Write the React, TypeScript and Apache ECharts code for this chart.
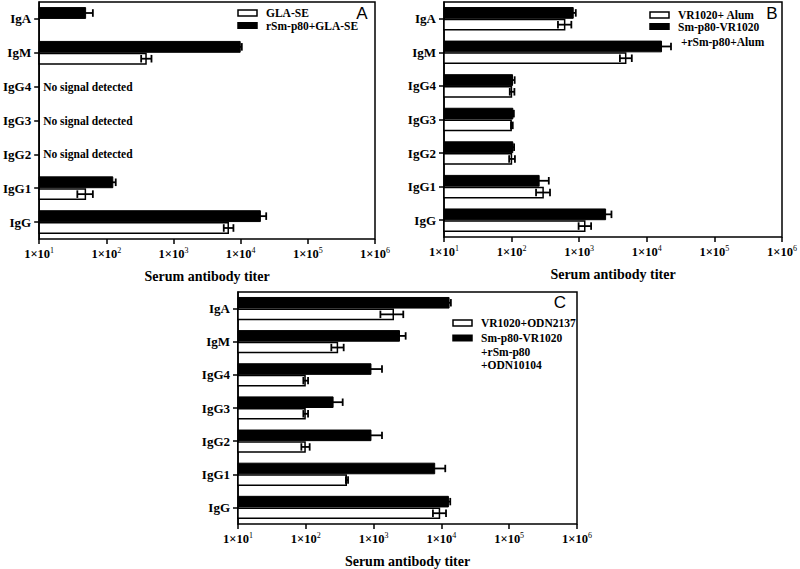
import React, { useEffect, useRef } from 'react';
import * as echarts from 'echarts';

const categories = ['IgG', 'IgG1', 'IgG2', 'IgG3', 'IgG4', 'IgM', 'IgA'];
const axisTitle = 'Serum antibody titer';
const noSignalText = 'No signal detected';
const noSignalCatsA = ['IgG2', 'IgG3', 'IgG4'];

// Panel A
const aWhite = [6700, 50, null, null, null, 400, null];
const aWhiteErr = [1100, 13, null, null, null, 70, null];
const aBlack = [20000, 127, null, null, null, 10000, 50];
const aBlackErr = [4000, 11, null, null, null, 400, 13];
const aLegend = ['GLA-SE', 'rSm-p80+GLA-SE'];

// Panel B
const bWhite = [1240, 300, 102, 101, 102, 5000, 625];
const bWhiteErr = [260, 70, 10, 3, 8, 1000, 140];
const bBlack = [2500, 260, 106, 106, 105, 16800, 830];
const bBlackErr = [500, 95, 3, 2, 6, 6000, 60];
const bLegend = ['VR1020+ Alum', 'Sm-p80-VR1020\n +rSm-p80+Alum'];

// Panel C
const cWhite = [9600, 405, 100, 100, 100, 300, 2000];
const cWhiteErr = [2100, 15, 14, 8, 8, 62, 740];
const cBlack = [12900, 8100, 930, 257, 930, 2450, 13200];
const cBlackErr = [600, 3300, 400, 93, 400, 520, 600];
const cLegend = ['VR1020+ODN2137', 'Sm-p80-VR1020\n+rSm-p80\n+ODN10104'];

const SERIF = 'Liberation Serif';
const SANS = 'Liberation Sans';

const grids = [
  { left: 35, top: 2, width: 340, height: 237 },
  { left: 444, top: 2, width: 338, height: 235 },
  { left: 238, top: 292, width: 339, height: 240 },
];

function errData(vals: (number | null)[], errs: (number | null)[], pos: number) {
  const out: any[] = [];
  vals.forEach((v, i) => {
    if (v != null && errs[i] != null) out.push([v, i, errs[i], pos]);
  });
  return out;
}

function renderErr(params: any, api: any) {
  const v = api.value(0);
  const c = api.value(1);
  const e = api.value(2);
  const pos = api.value(3);
  const lo = api.coord([v - e, c]);
  const hi = api.coord([v + e, c]);
  let band = api.size([0, 1])[1];
  if (!isFinite(band) || band <= 0) band = 34;
  const barH = band * 0.35;
  const y = lo[1] + (pos * barH) / 2;
  const cap = barH * 0.32;
  const st = { stroke: '#000', lineWidth: 1.8 };
  return {
    type: 'group',
    children: [
      { type: 'line', shape: { x1: lo[0], y1: y, x2: hi[0], y2: y }, style: st },
      { type: 'line', shape: { x1: lo[0], y1: y - cap, x2: lo[0], y2: y + cap }, style: st },
      { type: 'line', shape: { x1: hi[0], y1: y - cap, x2: hi[0], y2: y + cap }, style: st },
    ],
  };
}

function panelSeries(i: number, white: any[], whiteErr: any[], black: any[], blackErr: any[]) {
  return [
    {
      type: 'bar',
      xAxisIndex: i,
      yAxisIndex: i,
      data: black,
      barGap: '0%',
      barCategoryGap: '30%',
      itemStyle: { color: '#000', borderColor: '#000', borderWidth: 1 },
    },
    {
      type: 'bar',
      xAxisIndex: i,
      yAxisIndex: i,
      data: white,
      barGap: '0%',
      barCategoryGap: '30%',
      itemStyle: { color: '#fff', borderColor: '#000', borderWidth: 1.5 },
    },
    {
      type: 'custom',
      xAxisIndex: i,
      yAxisIndex: i,
      encode: { x: 0, y: 1 },
      data: [...errData(black, blackErr, -1), ...errData(white, whiteErr, 1)],
      renderItem: renderErr,
      z: 5,
    },
  ];
}

const txt = (size: number, bold = true, family = SERIF) => ({
  fontFamily: family,
  fontSize: size,
  fontWeight: bold ? 'bold' : 'normal',
  fill: '#000',
  verticalAlign: 'middle',
});

function legendGraphic(
  x: number, y: number, labels: string[], gap: number, lineH: number,
  letter: string, lx: number, ly: number,
) {
  const lines = labels[1].split('\n');
  const tx = x + 28;
  const children: any[] = [
    { type: 'rect', shape: { x, y: y - 3, width: 19, height: 6 }, style: { fill: '#fff', stroke: '#000', lineWidth: 1.5 } },
    { type: 'text', x: tx, y, style: { text: labels[0], ...txt(11.5) } },
    { type: 'rect', shape: { x: x - 0.75, y: y + gap - 3.5, width: 20.5, height: 7 }, style: { fill: '#000' } },
  ];
  lines.forEach((t, k) => {
    children.push({
      type: 'text',
      x: tx,
      y: y + gap + k * lineH,
      style: { text: t, ...txt(11.5) },
    });
  });
  children.push({
    type: 'text',
    x: lx,
    y: ly,
    style: { text: letter, ...txt(17, false, SANS), align: 'center' },
  });
  return children;
}

export default function App() {
  const ref = useRef<HTMLDivElement>(null);
  useEffect(() => {
    if (!ref.current) return;
    const chart = echarts.init(ref.current, null, { renderer: 'svg' });
    const xAxes = grids.map((_, i) => ({
      type: 'log',
      logBase: 10,
      min: 10,
      max: 1e6,
      gridIndex: i,
      name: axisTitle,
      nameLocation: 'middle',
      nameGap: 30,
      nameTextStyle: { fontFamily: SERIF, fontWeight: 'bold', fontSize: 14, color: '#000' },
      axisLine: { lineStyle: { color: '#000', width: 1.5 } },
      axisTick: { show: true, lineStyle: { color: '#000', width: 1.5 }, length: 5 },
      minorTick: { show: false },
      splitLine: { show: false },
      axisLabel: {
        margin: 7,
        color: '#000',
        formatter: (v: number) => `{b|1×10}{s|${Math.round(Math.log10(v))}}`,
        rich: {
          b: { fontFamily: SERIF, fontWeight: 'bold', fontSize: 12.5, color: '#000' },
          s: { fontFamily: SERIF, fontSize: 8, color: '#000', padding: [0, 0, 7, 0] },
        },
      },
    }));
    const yAxes = grids.map((_, i) => ({
      type: 'category',
      gridIndex: i,
      data: categories,
      axisLine: { show: true, lineStyle: { color: '#000', width: 1.5 } },
      axisTick: { show: true, alignWithLabel: true, length: 5, lineStyle: { color: '#000', width: 1.5 } },
      axisLabel: { margin: 8, fontFamily: SERIF, fontWeight: 'bold', fontSize: 13, color: '#000' },
    }));
    const noSignal = {
      type: 'custom',
      xAxisIndex: 0,
      yAxisIndex: 0,
      encode: { x: 0, y: 1 },
      data: noSignalCatsA.map((c) => [10, categories.indexOf(c)]),
      renderItem: (params: any, api: any) => {
        const p = api.coord([api.value(0), api.value(1)]);
        return {
          type: 'text',
          x: p[0] + 4,
          y: p[1],
          style: { text: noSignalText, ...txt(11.5) },
        };
      },
    };
    chart.setOption({
      animation: false,
      backgroundColor: '#fff',
      grid: grids.map((g) => ({ ...g, show: true, borderColor: '#000', borderWidth: 1.5, backgroundColor: 'transparent' })),
      xAxis: xAxes,
      yAxis: yAxes,
      series: [
        ...panelSeries(0, aWhite, aWhiteErr, aBlack, aBlackErr),
        ...panelSeries(1, bWhite, bWhiteErr, bBlack, bBlackErr),
        ...panelSeries(2, cWhite, cWhiteErr, cBlack, cBlackErr),
        noSignal,
      ],
      graphic: [
        ...legendGraphic(238, 13, aLegend, 12.5, 14, 'A', 362, 13),
        ...legendGraphic(650, 15, bLegend, 11.5, 15, 'B', 772, 13),
        ...legendGraphic(453, 323, cLegend, 15, 13.7, 'C', 560, 302),
      ],
    });
    return () => chart.dispose();
  }, []);
  return <div ref={ref} style={{ width: 800, height: 569, position: 'absolute', left: 0, top: 0 }} />;
}
